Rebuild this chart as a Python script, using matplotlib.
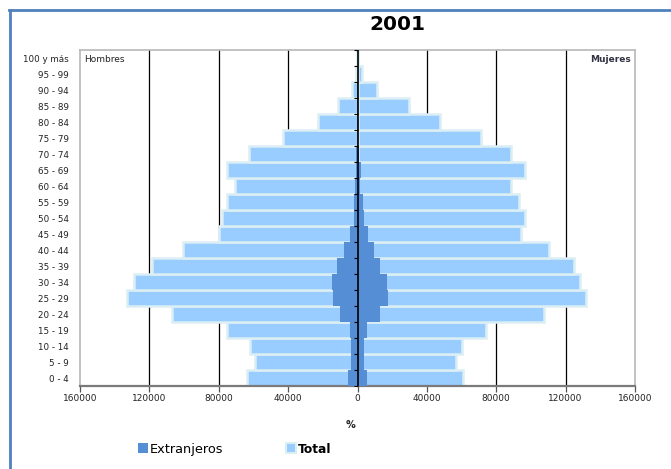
import matplotlib
matplotlib.use("Agg")
import matplotlib.pyplot as plt
from matplotlib.lines import Line2D
from matplotlib.patches import Patch
import numpy as np

categories = ["0 - 4", "5 - 9", "10 - 14", "15 - 19", "20 - 24", "25 - 29", "30 - 34",
              "35 - 39", "40 - 44", "45 - 49", "50 - 54", "55 - 59", "60 - 64", "65 - 69",
              "70 - 74", "75 - 79", "80 - 84", "85 - 89", "90 - 94", "95 - 99", "100 y más"]

hombres_total = [63500, 59000, 61900, 75400, 106900, 132900, 128900, 118700, 100500, 79800,
                 78300, 75000, 70700, 75000, 62400, 43200, 22600, 11000, 3000, 600, 150]
mujeres_total = [60600, 56800, 60000, 74100, 107400, 132000, 128500, 124700, 110200, 94500,
                 96300, 92900, 88700, 96800, 88700, 71400, 47300, 29800, 11500, 2500, 400]
hombres_ext = [5200, 3800, 3800, 4600, 10000, 14400, 14800, 11900, 7700, 4600,
               2300, 1900, 1500, 1000, 600, 400, 300, 200, 100, 0, 0]
mujeres_ext = [5400, 4000, 4000, 5400, 12700, 17500, 17000, 13100, 9600, 6300,
               4000, 2900, 1200, 1900, 800, 500, 300, 200, 100, 0, 0]

xticks = [-160000, -120000, -80000, -40000, 0, 40000, 80000, 120000, 160000]
gridvals = [-120000, -80000, -40000, 40000, 80000, 120000]

W, H = 671, 469
fig = plt.figure(figsize=(W / 100, H / 100), dpi=100)
ax = fig.add_axes([80 / W, (H - 386) / H, (635 - 80) / W, (386 - 50) / H])

y = np.arange(len(categories))
total_fill = "#99ccff"
total_edge = "#dbeef4"
ext_color = "#558ed5"

for g in gridvals:
    ax.axvline(g, color="black", lw=0.9, zorder=0)

ax.barh(y, [-v for v in hombres_total], height=1.0, color=total_fill,
        edgecolor=total_edge, linewidth=1.8, zorder=2)
ax.barh(y, mujeres_total, height=1.0, color=total_fill,
        edgecolor=total_edge, linewidth=1.8, zorder=2)
ax.barh(y, [-v for v in hombres_ext], height=1.0, color=ext_color, linewidth=0, zorder=3)
ax.barh(y, mujeres_ext, height=1.0, color=ext_color, linewidth=0, zorder=3)

ax.axvline(0, color="black", lw=1.2, zorder=4)
bounds = np.arange(len(categories) + 1) - 0.5
ax.plot(np.zeros(len(bounds)), bounds, ls="none", marker=0, markersize=3,
        color="black", markeredgewidth=0.8, zorder=4)

ax.set_xlim(-160000, 160000)
ax.set_ylim(-0.5, len(categories) - 0.5)
ax.set_xticks(xticks)
ax.set_xticklabels([str(abs(v)) for v in xticks], fontsize=6.5, color="#222222")
ax.tick_params(axis="x", direction="out", length=4, width=0.9, color="#555555", pad=2)
ax.set_yticks(y)
ax.set_yticklabels(categories, fontsize=6.3, color="#222222")
ax.tick_params(axis="y", length=0, pad=8)

for s in ["left", "top", "right"]:
    ax.spines[s].set_color("#b8b8b8")
    ax.spines[s].set_linewidth(1.2)
ax.spines["bottom"].set_color("#7a7a7a")
ax.spines["bottom"].set_linewidth(1.6)

ax.text(0.008, 0.985, "Hombres", transform=ax.transAxes, ha="left", va="top",
        fontsize=6.5, color="#222222")
ax.text(0.993, 0.985, "Mujeres", transform=ax.transAxes, ha="right", va="top",
        fontsize=6.5, fontweight="bold", color="#333344")

fig.text(397 / W, 1 - 24 / H, "2001", ha="center", va="center", fontsize=14.5,
         fontweight="bold", color="black")
fig.text(351 / W, 1 - 425 / H, "%", ha="center", va="center", fontsize=7,
         fontweight="bold", color="#222222")

# legend
handles = [Patch(facecolor=ext_color, edgecolor="none"),
           Patch(facecolor=total_fill, edgecolor=total_edge, linewidth=1.5)]
leg = fig.legend(handles, ["Extranjeros", "Total"], loc="center left",
                 bbox_to_anchor=(132 / W, 1 - 449 / H), ncol=2, frameon=False,
                 fontsize=9.3, handlelength=0.75, handleheight=0.75, handletextpad=0.12,
                 columnspacing=4.9, borderpad=0)
leg.get_texts()[1].set_fontweight("bold")
leg.get_texts()[1].set_fontsize(8.8)

# outer blue border
fig.add_artist(Line2D([9 / W, 1], [1 - 10 / H, 1 - 10 / H], color="#4f81bd", lw=2,
                      transform=fig.transFigure))
fig.add_artist(Line2D([10 / W, 10 / W], [0, 1 - 10 / H], color="#4f81bd", lw=2,
                      transform=fig.transFigure))

fig.savefig("out.png", dpi=100)
